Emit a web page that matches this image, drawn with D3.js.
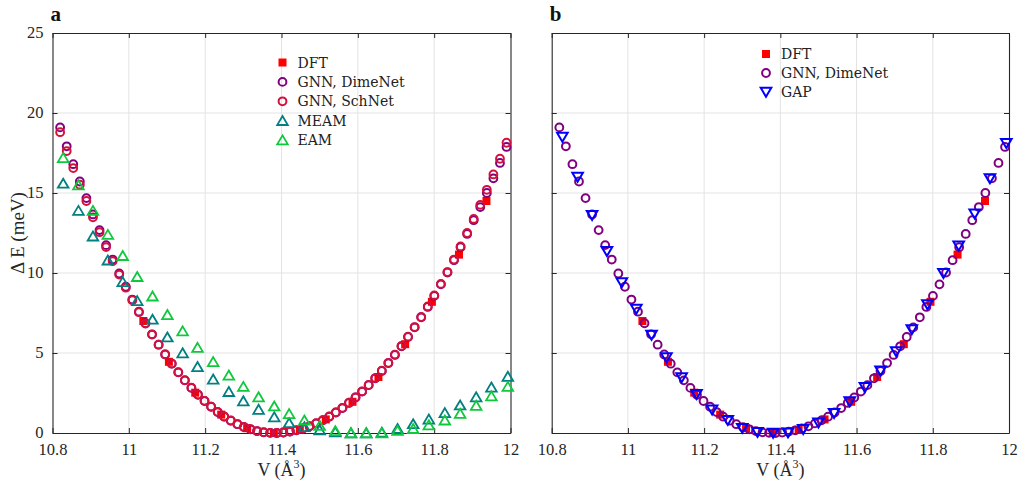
<!DOCTYPE html>
<html>
<head>
<meta charset="utf-8">
<script src="https://cdn.jsdelivr.net/npm/d3@7"></script>
<style>
  body { margin: 0; background: #fff; }
</style>
</head>
<body>
<div id="chart"></div>
<script>
// GNN curves (same volume grid)
const gnnV = [10.8200, 10.8372, 10.8544, 10.8716, 10.8888, 10.9060, 10.9232, 10.9404, 10.9576, 10.9748,
  10.9920, 11.0092, 11.0264, 11.0436, 11.0608, 11.0780, 11.0952, 11.1124, 11.1296, 11.1468,
  11.1640, 11.1812, 11.1984, 11.2156, 11.2328, 11.2500, 11.2672, 11.2844, 11.3016, 11.3188,
  11.3360, 11.3532, 11.3704, 11.3876, 11.4048, 11.4220, 11.4392, 11.4564, 11.4736, 11.4908,
  11.5080, 11.5252, 11.5424, 11.5596, 11.5768, 11.5940, 11.6112, 11.6284, 11.6456, 11.6628,
  11.6800, 11.6972, 11.7144, 11.7316, 11.7488, 11.7660, 11.7832, 11.8004, 11.8176, 11.8348,
  11.8520, 11.8692, 11.8864, 11.9036, 11.9208, 11.9380, 11.9552, 11.9724, 11.9896];
const dimeNetE = [19.10, 17.92, 16.80, 15.72, 14.68, 13.66, 12.68, 11.74, 10.84, 9.97,
  9.14, 8.34, 7.58, 6.86, 6.17, 5.52, 4.91, 4.33, 3.79, 3.29,
  2.82, 2.39, 2.00, 1.64, 1.31, 1.02, 0.77, 0.55, 0.37, 0.23,
  0.12, 0.04, 0.01, 0.00, 0.03, 0.09, 0.17, 0.28, 0.42, 0.60,
  0.79, 1.02, 1.28, 1.56, 1.88, 2.22, 2.59, 2.99, 3.42, 3.88,
  4.37, 4.88, 5.42, 6.00, 6.60, 7.23, 7.88, 8.57, 9.29, 10.03,
  10.80, 11.61, 12.44, 13.30, 14.12, 15.00, 15.92, 16.88, 17.88];
const schNetE = [18.80, 17.62, 16.56, 15.52, 14.50, 13.48, 12.55, 11.62, 10.74, 9.90,
  9.08, 8.30, 7.55, 6.84, 6.15, 5.52, 4.92, 4.34, 3.80, 3.30,
  2.83, 2.40, 2.01, 1.65, 1.32, 1.03, 0.78, 0.56, 0.38, 0.24,
  0.12, 0.05, 0.01, 0.00, 0.03, 0.09, 0.18, 0.29, 0.43, 0.61,
  0.80, 1.03, 1.29, 1.57, 1.89, 2.23, 2.60, 3.00, 3.43, 3.89,
  4.38, 4.90, 5.44, 6.02, 6.62, 7.25, 7.91, 8.60, 9.32, 10.06,
  10.84, 11.66, 12.50, 13.38, 14.26, 15.20, 16.16, 17.14, 18.14];

// DFT reference points
const dftV = [11.038, 11.105, 11.174, 11.242, 11.310, 11.380, 11.448, 11.516, 11.586, 11.654, 11.724, 11.794, 11.865, 11.937];
const dftE = [7.00, 4.45, 2.52, 1.15, 0.30, 0.00, 0.20, 0.85, 1.95, 3.50, 5.55, 8.20, 11.15, 14.50];

// classical potentials + GAP (coarser grid)
const potV = [10.828, 10.868, 10.906, 10.945, 10.984, 11.022, 11.062, 11.101, 11.141, 11.180,
  11.221, 11.262, 11.300, 11.340, 11.381, 11.420, 11.460, 11.500, 11.541, 11.582,
  11.622, 11.663, 11.704, 11.745, 11.786, 11.828, 11.868, 11.910, 11.950, 11.993];
const meamE = [15.6, 13.9, 12.3, 10.8, 9.45, 8.26, 7.10, 5.99, 5.00, 4.14,
  3.36, 2.58, 2.00, 1.47, 1.00, 0.63, 0.38, 0.19, 0.06, 0.00,
  0.00, 0.04, 0.27, 0.57, 0.86, 1.26, 1.74, 2.25, 2.86, 3.53];
const eamE = [17.2, 15.5, 13.9, 12.4, 11.08, 9.77, 8.55, 7.39, 6.37, 5.34,
  4.45, 3.61, 2.90, 2.25, 1.68, 1.20, 0.80, 0.46, 0.13, 0.00,
  0.00, 0.00, 0.15, 0.27, 0.50, 0.80, 1.22, 1.72, 2.31, 2.90];
const gapE = [18.5, 16.0, 13.6, 11.35, 9.40, 7.75, 6.12, 4.71, 3.46, 2.42,
  1.45, 0.80, 0.30, 0.05, 0.00, 0.02, 0.23, 0.64, 1.23, 1.96,
  2.86, 3.88, 5.09, 6.46, 8.03, 9.98, 11.70, 13.70, 15.90, 18.10];

const xTicks = [10.8, 11, 11.2, 11.4, 11.6, 11.8, 12];
const yTicks = [0, 5, 10, 15, 20, 25];

const width = 1030;
const height = 481;
const serif = "'Liberation Serif', 'Times New Roman', serif";
const legendFont = "'DejaVu Serif', serif";

const svg = d3.select("#chart").append("svg")
  .attr("width", width)
  .attr("height", height);

function markerPath(shape) {
  if (shape === "up") return "M0,-4.7L5.3,4.3L-5.3,4.3Z";
  if (shape === "down") return "M0,4.7L5.3,-4.3L-5.3,-4.3Z";
  return null;
}

function drawMarks(g, vs, es, s, x, y) {
  const pts = vs.map((v, i) => [x(v), y(es[i])]);
  if (s.shape === "circle") {
    g.selectAll(null).data(pts).enter().append("circle")
      .attr("cx", d => d[0]).attr("cy", d => d[1]).attr("r", 3.9)
      .attr("fill", "none").attr("stroke", s.color).attr("stroke-width", 2);
  } else if (s.shape === "square") {
    g.selectAll(null).data(pts).enter().append("rect")
      .attr("x", d => d[0] - 4).attr("y", d => d[1] - 4)
      .attr("width", 8).attr("height", 8)
      .attr("fill", s.color);
  } else {
    g.selectAll(null).data(pts).enter().append("path")
      .attr("d", markerPath(s.shape))
      .attr("transform", d => "translate(" + d[0] + "," + d[1] + ")")
      .attr("fill", "none").attr("stroke", s.color)
      .attr("stroke-width", s.shape === "down" ? 2 : 1.8)
      .attr("stroke-linejoin", "miter");
  }
}

function drawLegendMarker(g, s, cx, cy) {
  drawMarks(g, [0], [0], s, () => cx, () => cy);
}

function drawPanel(opt) {
  const x = d3.scaleLinear().domain([10.8, 12]).range([opt.left, opt.right]);
  const y = d3.scaleLinear().domain([0, 25]).range([433, 33]);
  const g = svg.append("g");

  // grid
  g.selectAll(null).data(xTicks.slice(1, -1)).enter().append("line")
    .attr("x1", d => x(d)).attr("x2", d => x(d)).attr("y1", y(0)).attr("y2", y(25))
    .attr("stroke", "#e3e3e3").attr("stroke-width", 1);
  g.selectAll(null).data(yTicks.slice(1, -1)).enter().append("line")
    .attr("x1", x(10.8)).attr("x2", x(12)).attr("y1", d => y(d)).attr("y2", d => y(d))
    .attr("stroke", "#e3e3e3").attr("stroke-width", 1);

  // axes (MATLAB-like box with inward ticks)
  const bottom = g.append("g").attr("transform", "translate(0," + y(0) + ")")
    .call(d3.axisBottom(x).tickValues(xTicks).tickSizeInner(-5).tickSizeOuter(0)
      .tickPadding(10).tickFormat(d => String(+d.toFixed(1))));
  const top = g.append("g").attr("transform", "translate(0," + y(25) + ")")
    .call(d3.axisTop(x).tickValues(xTicks).tickSizeInner(-5).tickSizeOuter(0).tickFormat(""));
  const leftAx = g.append("g").attr("transform", "translate(" + x(10.8) + ",0)")
    .call(d3.axisLeft(y).tickValues(yTicks).tickSizeInner(-5).tickSizeOuter(0)
      .tickPadding(9).tickFormat(opt.yLabels ? d3.format("d") : ""));
  const rightAx = g.append("g").attr("transform", "translate(" + x(12) + ",0)")
    .call(d3.axisRight(y).tickValues(yTicks).tickSizeInner(-5).tickSizeOuter(0).tickFormat(""));
  [bottom, top, leftAx, rightAx].forEach(a => {
    a.select(".domain").attr("stroke", "#262626").attr("stroke-width", 1.1);
    a.selectAll(".tick line").attr("stroke", "#262626");
    a.selectAll("text").style("font-family", serif)
      .style("font-size", "16.5px").attr("fill", "#262626");
  });
  leftAx.selectAll("text").attr("dy", "0.28em");

  // data, in plotting order
  opt.series.forEach(s => drawMarks(g, s.v, s.e, s, x, y));

  // legend
  opt.series.forEach((s, i) => {
    const cy = opt.legY + i * opt.legStep;
    drawLegendMarker(g, s, opt.legX, cy);
    g.append("text").attr("x", opt.legX + 15).attr("y", cy + 5)
      .style("font-family", legendFont).style("font-size", "14px")
      .attr("fill", "#222").text(s.name);
  });

  // panel letter
  g.append("text").attr("x", opt.left - 2).attr("y", 21)
    .style("font-family", serif).style("font-size", "21px")
    .attr("font-weight", "bold").attr("fill", "#111").text(opt.letter);

  // x label
  const xl = g.append("text").attr("x", (opt.left + opt.right) / 2).attr("y", 476)
    .attr("text-anchor", "middle").style("font-family", serif)
    .style("font-size", "18px").attr("fill", "#262626");
  xl.append("tspan").text("V (Å");
  xl.append("tspan").style("font-size", "12px").attr("dy", -8).text("3");
  xl.append("tspan").attr("dy", 8).text(")");
}

const dft = { name: "DFT", v: dftV, e: dftE, color: "#ff0000", shape: "square" };
const dime = { name: "GNN, DimeNet", v: gnnV, e: dimeNetE, color: "#800080", shape: "circle" };
const sch = { name: "GNN, SchNet", v: gnnV, e: schNetE, color: "#d4103c", shape: "circle" };
const meam = { name: "MEAM", v: potV, e: meamE, color: "#008080", shape: "up" };
const eam = { name: "EAM", v: potV, e: eamE, color: "#10c83c", shape: "up" };
const gap = { name: "GAP", v: potV, e: gapE, color: "#0000ff", shape: "down" };

drawPanel({ left: 52.5, right: 510.5, letter: "a", yLabels: true,
  series: [dft, dime, sch, meam, eam], legX: 282.5, legY: 62.5, legStep: 19.4 });
drawPanel({ left: 551.7, right: 1009, letter: "b", yLabels: false,
  series: [dft, dime, gap], legX: 766, legY: 54, legStep: 19 });

// y label
svg.append("text")
  .attr("transform", "translate(24,233) rotate(-90)")
  .attr("text-anchor", "middle").style("font-family", serif)
  .style("font-size", "19px").attr("fill", "#262626")
  .text("Δ E (meV)");
</script>
</body>
</html>
